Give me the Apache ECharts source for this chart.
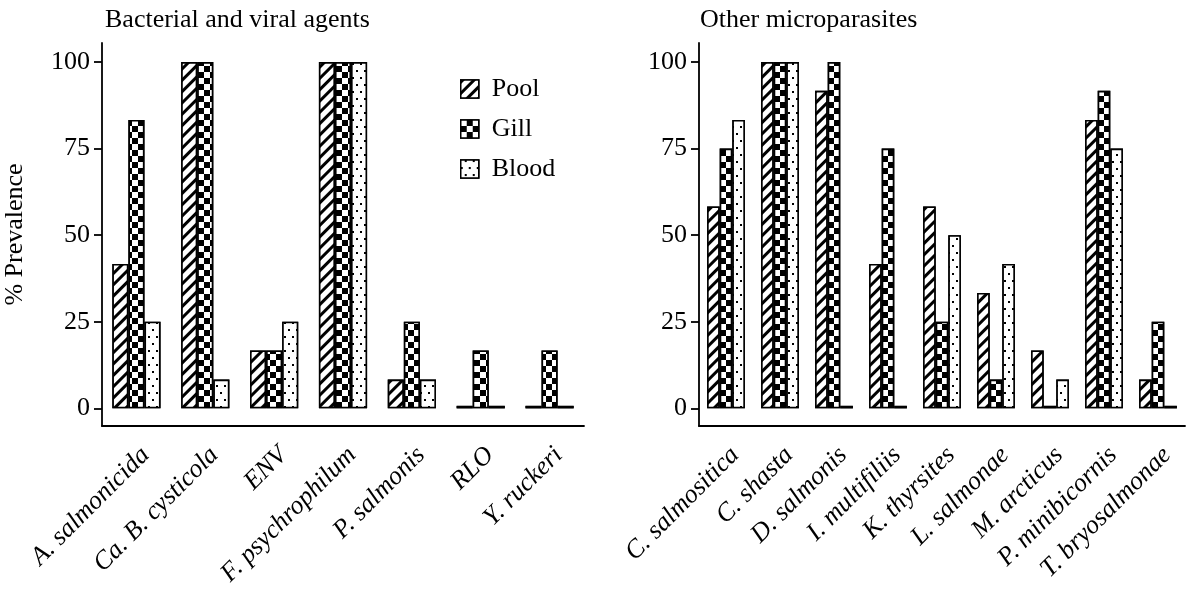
<!DOCTYPE html>
<html>
<head>
<meta charset="utf-8">
<script src="https://cdn.jsdelivr.net/npm/echarts@6/dist/echarts.min.js"></script>
<style>
html,body{margin:0;padding:0;background:#fff;}
#c{width:1200px;height:603px;}
</style>
</head>
<body>
<div id="c"></div>
<script>
const catsA = ['A. salmonicida','Ca. B. cysticola','ENV','F. psychrophilum','P. salmonis','RLO','Y. ruckeri'];
const poolA = [41.7,100,16.7,100,8.3,0,0];
const gillA = [83.3,100,16.7,100,25,16.7,16.7];
const bloodA = [25,8.3,25,100,8.3,0,0];

const catsB = ['C. salmositica','C. shasta','D. salmonis','I. multifiliis','K. thyrsites','L. salmonae','M. arcticus','P. minibicornis','T. bryosalmonae'];
const poolB = [58.3,100,91.7,41.7,58.3,33.3,16.7,83.3,8.3];
const gillB = [75,100,100,75,25,8.3,0,91.7,25];
const bloodB = [83.3,100,0,0,50,41.7,8.3,75,0];

const yTicks = [0,25,50,75,100];
const seriesNames = ['Pool','Gill','Blood'];

const FONT = 'Liberation Serif';
const FS = 26;
const decals = {
  Pool: {symbol:'rect', symbolSize:1, color:'#000', backgroundColor:'#fff', dashArrayX:[1,0], dashArrayY:[3,5], rotation:-Math.PI/4},
  Gill: {symbol:'rect', symbolSize:1, color:'#000', backgroundColor:'#fff', dashArrayX:[[5.5,5.5],[0,5.5,5.5,0]], dashArrayY:[5.5,0]},
  Blood:{symbol:'rect', symbolSize:1, color:'#000', backgroundColor:'#fff', dashArrayX:[[2,6],[0,4,2,2]], dashArrayY:[2,5]}
};

function xAxis(cats, idx){
  return {
    type:'category', gridIndex:idx, data:cats,
    axisLine:{onZero:false, lineStyle:{color:'#000', width:1.8}},
    axisTick:{alignWithLabel:true, length:8, lineStyle:{color:'#000', width:1.8}},
    axisLabel:{rotate:45, margin:16, verticalAlign:'top', color:'#000', fontFamily:FONT, fontStyle:'italic', fontSize:FS, interval:0}
  };
}
function yAxis(idx, name){
  return {
    type:'value', gridIndex:idx, min:-5.1, max:105.5,
    name:name, nameLocation:'middle', nameGap:74, nameRotate:90,
    nameTextStyle:{color:'#000', fontFamily:FONT, fontSize:FS},
    splitLine:{show:false},
    axisLine:{show:true, lineStyle:{color:'#000', width:1.8}},
    axisTick:{show:true, length:8, customValues:yTicks, lineStyle:{color:'#000', width:1.8}},
    axisLabel:{customValues:yTicks, margin:12, color:'#000', fontFamily:FONT, fontSize:FS}
  };
}
function bars(vals, name, idx){
  return {
    type:'bar', name:name, xAxisIndex:idx, yAxisIndex:idx, data:vals,
    barGap:'0%', barCategoryGap:'30%', barMinHeight:2.5,
    itemStyle:{color:'#fff', borderColor:'#000', borderWidth:1.6, decal:decals[name]},
    emphasis:{disabled:true}
  };
}

const chart = echarts.init(document.getElementById('c'), null, {renderer:'canvas'});
chart.setOption({
  animation:false,
  backgroundColor:'#fff',
  title:[
    {text:'Bacterial and viral agents', left:100, top:2, textStyle:{fontFamily:FONT, fontWeight:'normal', fontSize:FS, color:'#000'}},
    {text:'Other microparasites', left:695, top:2, textStyle:{fontFamily:FONT, fontWeight:'normal', fontSize:FS, color:'#000'}}
  ],
  legend:{
    data:seriesNames, orient:'vertical', left:455, top:71,
    icon:'rect', itemWidth:18, itemHeight:18, itemGap:14,
    textStyle:{fontFamily:FONT, fontSize:FS, color:'#000', padding:[0,0,0,8]},
    itemStyle:{borderColor:'#000', borderWidth:1.5},
    selectedMode:false
  },
  grid:[
    {left:102, top:43, width:482, height:383},
    {left:699, top:43, width:486, height:383}
  ],
  xAxis:[xAxis(catsA,0), xAxis(catsB,1)],
  yAxis:[yAxis(0,'% Prevalence'), yAxis(1,'')],
  series:[
    bars(poolA,'Pool',0), bars(gillA,'Gill',0), bars(bloodA,'Blood',0),
    bars(poolB,'Pool',1), bars(gillB,'Gill',1), bars(bloodB,'Blood',1)
  ]
});
</script>
</body>
</html>
